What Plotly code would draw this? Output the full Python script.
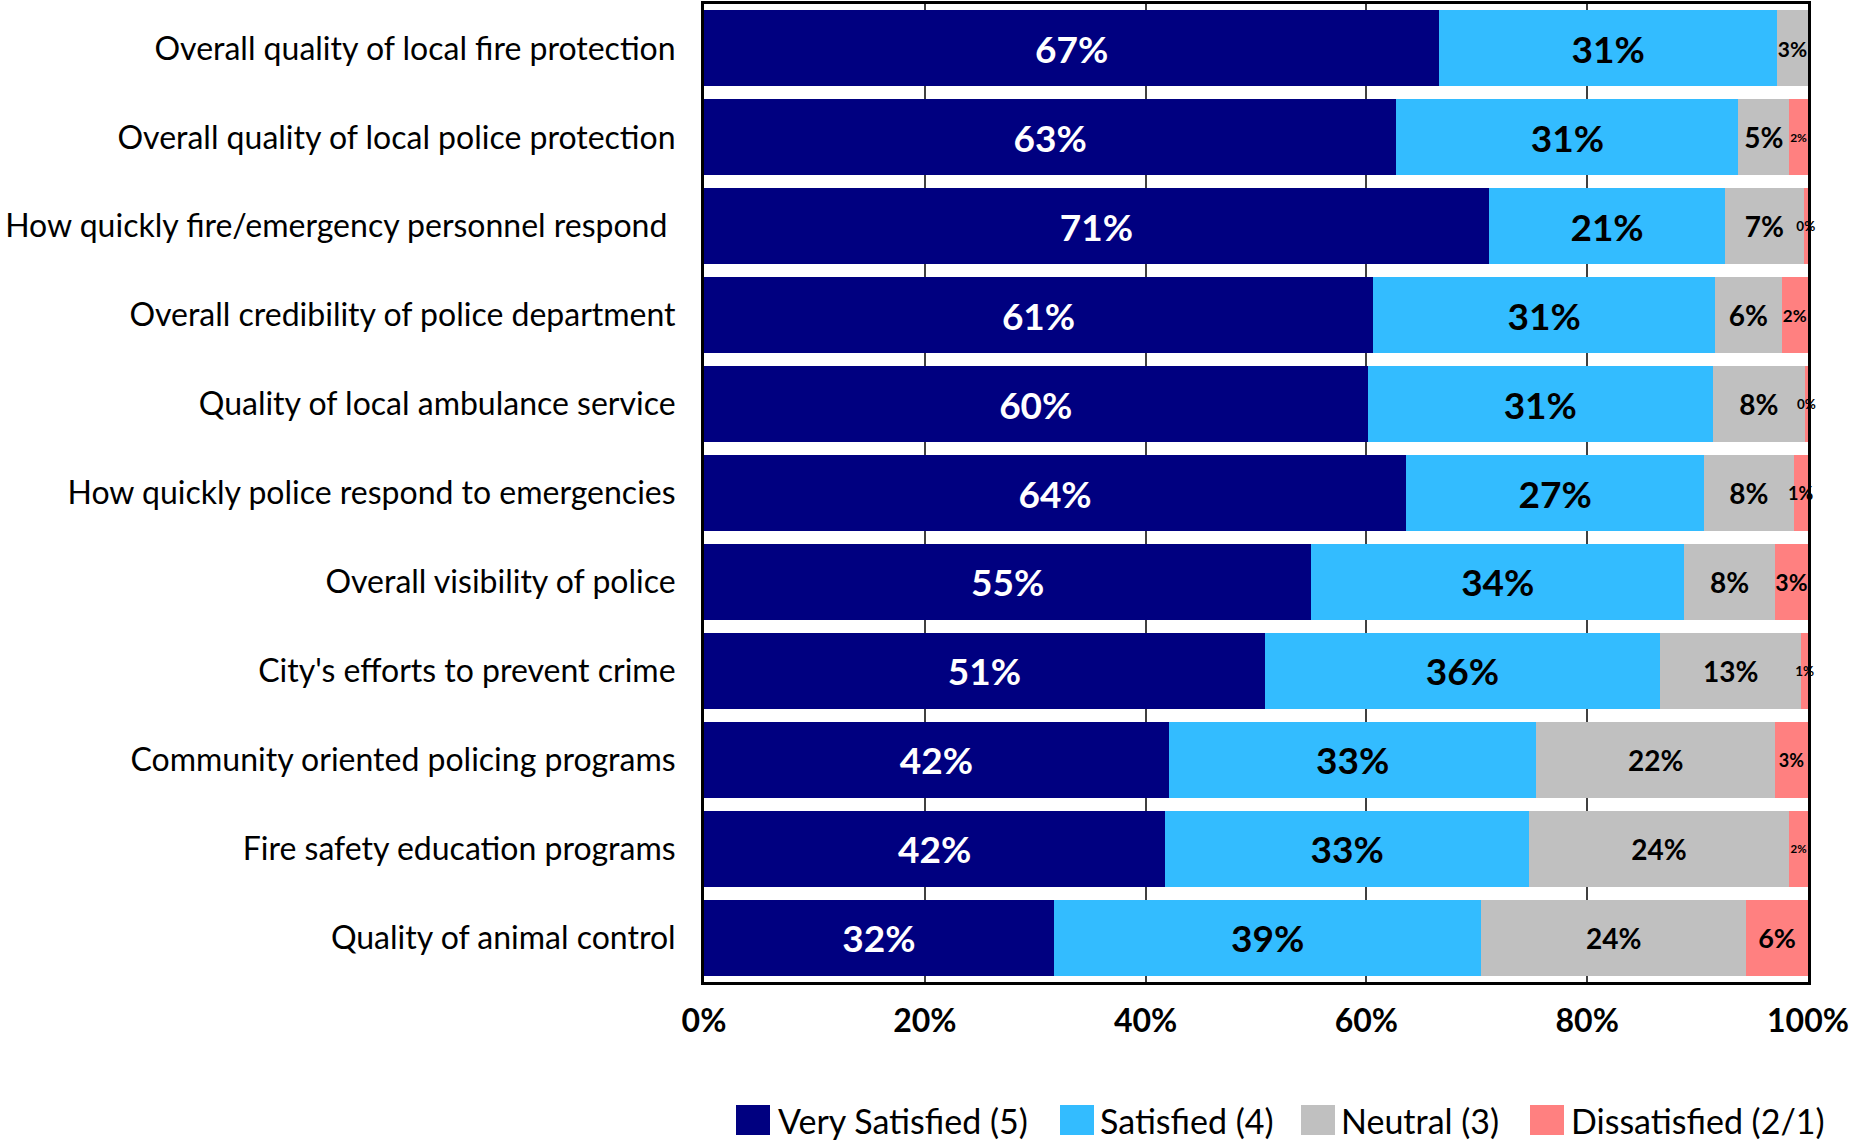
import plotly.graph_objects as go

# Survey items, top to bottom
categories = [
    "Overall quality of local fire protection",
    "Overall quality of local police protection",
    "How quickly fire/emergency personnel respond\u00a0",
    "Overall credibility of police department",
    "Quality of local ambulance service",
    "How quickly police respond to emergencies",
    "Overall visibility of police",
    "City's efforts to prevent crime",
    "Community oriented policing programs",
    "Fire safety education programs",
    "Quality of animal control",
]

# Percent of respondents per rating
very_satisfied = [66.6, 62.7, 71.1, 60.6, 60.1, 63.6, 55.0, 50.8, 42.1, 41.8, 31.7]
satisfied = [30.6, 31.0, 21.4, 31.0, 31.3, 27.0, 33.8, 35.8, 33.3, 32.9, 38.7]
neutral = [2.8, 4.6, 7.1, 6.0, 8.3, 8.1, 8.2, 12.8, 21.6, 23.6, 24.0]
dissatisfied = [0.0, 1.7, 0.4, 2.4, 0.3, 1.3, 3.0, 0.6, 3.0, 1.7, 5.6]

series_names = ["Very Satisfied (5)", "Satisfied (4)", "Neutral (3)", "Dissatisfied (2/1)"]
x_ticks = [0, 20, 40, 60, 80, 100]

# Styling
colors = ["#000080", "#33BCFF", "#C0C0C0", "#FF8080"]
text_colors = ["white", "black", "black", "black"]
label_sizes = [
    [37] * 11,
    [37] * 11,
    [21, 28, 28, 28, 28, 28, 28, 28, 28, 28, 28],
    [12, 12, 13.5, 17, 13.5, 18, 23, 13.5, 18, 11.5, 27],
]
FONT = "Lato, 'Open Sans', sans-serif"

W, H = 1849, 1144
L, R, T, B = 704, 1808, 4, 982


def pct_label(v):
    return "" if v == 0 else f"{int(v + 0.5)}%"


fig = go.Figure()
for name, vals, col, tcol, sizes in zip(
    series_names,
    [very_satisfied, satisfied, neutral, dissatisfied],
    colors, text_colors, label_sizes,
):
    fig.add_trace(go.Bar(
        name=name,
        y=categories,
        x=vals,
        orientation="h",
        marker=dict(color=col, line=dict(width=0)),
        text=[pct_label(v) for v in vals],
        textposition="inside",
        insidetextanchor="middle",
        textangle=0,
        constraintext="none",
        cliponaxis=False,
        textfont=dict(family=FONT, color=tcol, size=sizes, weight="bold"),
        showlegend=False,
        hoverinfo="x+y+name",
    ))

# Legend drawn below the plot as colour swatches with captions
def px_to_paper_x(px):
    return (px - L) / (R - L)


def px_to_paper_y(py):
    return (B - py) / (B - T)


legend_items = [(753, 776), (1077, 1098), (1318, 1339), (1547, 1569)]
legend_y = px_to_paper_y(1120)
shapes = []
annotations = []
for (sq_x, txt_x), name, col in zip(legend_items, series_names, colors):
    shapes.append(dict(
        type="rect", xref="paper", yref="paper",
        xsizemode="pixel", ysizemode="pixel",
        xanchor=px_to_paper_x(sq_x), yanchor=legend_y,
        x0=-17, x1=17, y0=-15, y1=15,
        fillcolor=col, line=dict(width=0), layer="above",
    ))
    annotations.append(dict(
        text=name, xref="paper", yref="paper",
        x=px_to_paper_x(txt_x), y=legend_y,
        xanchor="left", yanchor="middle", showarrow=False,
        font=dict(family=FONT, size=34, color="black"),
    ))

fig.update_layout(
    barmode="stack",
    bargap=0.145,
    width=W, height=H,
    margin=dict(l=L, r=W - R, t=T, b=H - B, autoexpand=False),
    paper_bgcolor="white",
    plot_bgcolor="white",
    shapes=shapes,
    annotations=annotations,
    font=dict(family=FONT, color="black"),
)
fig.update_xaxes(
    range=[0, 100],
    tickvals=x_ticks,
    ticktext=[f"{t}%" for t in x_ticks],
    tickfont=dict(family=FONT, size=32, color="black", weight="bold"),
    showgrid=True, gridcolor="#404040", gridwidth=1.5,
    showline=True, linecolor="black", linewidth=3, mirror=True,
    ticks="", ticklabelstandoff=9,
    zeroline=False,
)
fig.update_yaxes(
    autorange="reversed",
    tickfont=dict(family=FONT, size=32, color="black"),
    showgrid=False,
    showline=True, linecolor="black", linewidth=3, mirror=True,
    ticks="", ticklabelstandoff=19,
)

fig.write_html("out.html")
